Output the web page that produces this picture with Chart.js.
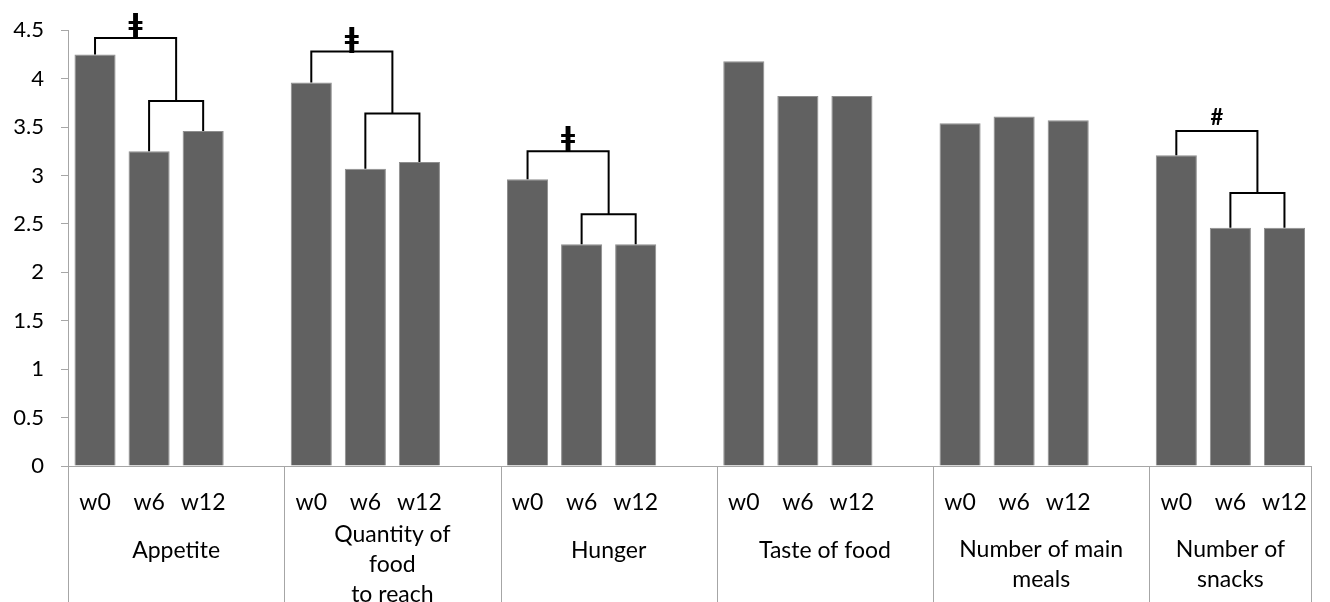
<!DOCTYPE html>
<html>
<head>
<meta charset="utf-8">
<script src="https://cdn.jsdelivr.net/npm/chart.js@4.4.1/dist/chart.umd.min.js"></script>
<style>
  html, body { margin: 0; padding: 0; background: #fff; overflow: hidden; }
  #wrap { width: 1330px; height: 602px; position: relative; }
</style>
</head>
<body>
<div id="wrap"><canvas id="c" width="1330" height="602"></canvas></div>
<script>
// Time points measured within each item
const timepoints = ['w0', 'w6', 'w12'];

// Item names (one entry per text line)
const groupNames = [
  ['Appetite'],
  ['Quantity of', 'food', 'to reach'],
  ['Hunger'],
  ['Taste of food'],
  ['Number of main', 'meals'],
  ['Number of', 'snacks']
];

// Mean scores at w0, w6, w12
const appetite  = [4.25, 3.25, 3.46];
const quantity  = [3.96, 3.07, 3.14];
const hunger    = [2.96, 2.29, 2.29];
const taste     = [4.18, 3.82, 3.82];
const mainMeals = [3.54, 3.61, 3.57];
const snacks    = [3.21, 2.46, 2.46];
const groupScores = [appetite, quantity, hunger, taste, mainMeals, snacks];

// Value axis
const yMin = 0, yMax = 4.5, yStep = 0.5;
const yTickLabels = ['0', '0.5', '1', '1.5', '2', '2.5', '3', '3.5', '4', '4.5'];

// Significance brackets: item index, marker, level of upper and lower bracket
const sigGroups = [0, 1, 2, 5];
const sigMarks  = ['\u01C2', '\u01C2', '\u01C2', '#'];
const sigUpper  = [4.42, 4.28, 3.25, 3.46];
const sigLower  = [3.77, 3.64, 2.60, 2.82];

// One slot per bar, with an empty slot between items
const slotLabels = [];
const slotValues = [];
groupScores.forEach((vals, g) => {
  vals.forEach((v, i) => { slotLabels.push(timepoints[i]); slotValues.push(v); });
  if (g < groupScores.length - 1) { slotLabels.push(''); slotValues.push(null); }
});
const SLOTS_PER_GROUP = timepoints.length + 1;

const FONT = 'Lato, "Open Sans", sans-serif';
const AXIS_GREY = '#a6a6a6';

const groupAxisPlugin = {
  id: 'groupAxis',
  afterDraw(chart) {
    const ctx = chart.ctx;
    const x = chart.scales.x;
    const slotW = x.getPixelForValue(1) - x.getPixelForValue(0);
    const bounds = [];
    groupScores.forEach((vals, g) => {
      const first = g * SLOTS_PER_GROUP;
      const left = x.getPixelForValue(first) - slotW / 2;
      const last = g < groupScores.length - 1 ? first + timepoints.length : first + timepoints.length - 1;
      const right = x.getPixelForValue(last) + slotW / 2;
      bounds.push([left, right]);
    });
    ctx.save();
    // vertical separators between items
    ctx.strokeStyle = AXIS_GREY;
    ctx.lineWidth = 1;
    const edges = bounds.map(b => b[0]).concat([bounds[bounds.length - 1][1]]);
    edges.forEach(px => {
      const xx = Math.round(px) + 0.5;
      ctx.beginPath();
      ctx.moveTo(xx, x.top);
      ctx.lineTo(xx, chart.height);
      ctx.stroke();
    });
    // item names
    ctx.fillStyle = '#000';
    ctx.font = '23px ' + FONT;
    ctx.textAlign = 'center';
    ctx.textBaseline = 'middle';
    const lineH = 30;
    groupNames.forEach((lines, g) => {
      const cx = (bounds[g][0] + bounds[g][1]) / 2;
      const y0 = Math.min(551, 565 - (lines.length - 1) * lineH / 2);
      lines.forEach((t, k) => ctx.fillText(t, cx, y0 + k * lineH));
    });
    ctx.restore();
  },
  afterDatasetsDraw(chart) {
    const ctx = chart.ctx;
    const x = chart.scales.x;
    const y = chart.scales.y;
    ctx.save();
    ctx.strokeStyle = '#000';
    ctx.lineWidth = 2;
    ctx.lineJoin = 'miter';
    sigGroups.forEach((g, k) => {
      const first = g * SLOTS_PER_GROUP;
      const vals = groupScores[g];
      const x0 = x.getPixelForValue(first);
      const x1 = x.getPixelForValue(first + 1);
      const x2 = x.getPixelForValue(first + 2);
      const xm = (x1 + x2) / 2;
      const yUp = y.getPixelForValue(sigUpper[k]);
      const yLo = y.getPixelForValue(sigLower[k]);
      // lower bracket: w6 vs w12
      ctx.beginPath();
      ctx.moveTo(x1, y.getPixelForValue(vals[1]));
      ctx.lineTo(x1, yLo);
      ctx.lineTo(x2, yLo);
      ctx.lineTo(x2, y.getPixelForValue(vals[2]));
      ctx.stroke();
      // upper bracket: w0 vs later weeks
      ctx.beginPath();
      ctx.moveTo(x0, y.getPixelForValue(vals[0]));
      ctx.lineTo(x0, yUp);
      ctx.lineTo(xm, yUp);
      ctx.lineTo(xm, yLo);
      ctx.stroke();
      // marker
      ctx.fillStyle = '#000';
      ctx.textAlign = 'center';
      ctx.textBaseline = 'alphabetic';
      const mx = (x0 + xm) / 2;
      if (sigMarks[k] === '#') {
        ctx.font = 'bold 22px ' + FONT;
        ctx.fillText(sigMarks[k], mx, yUp - 6);
      } else {
        ctx.font = 'bold 26px "DejaVu Sans"';
        ctx.fillText(sigMarks[k], mx, yUp - 5);
      }
    });
    ctx.restore();
  }
};

new Chart(document.getElementById('c'), {
  type: 'bar',
  data: {
    labels: slotLabels,
    datasets: [{
      data: slotValues,
      backgroundColor: '#616161',
      borderColor: '#8e8e8e',
      borderWidth: 1,
      barPercentage: 0.76,
      categoryPercentage: 1
    }]
  },
  options: {
    responsive: false,
    animation: false,
    devicePixelRatio: 1,
    layout: { padding: { top: 28, right: 8, left: 0, bottom: 0 } },
    plugins: { legend: { display: false }, tooltip: { enabled: false } },
    scales: {
      x: {
        grid: { display: false, drawTicks: false },
        border: { display: true, color: AXIS_GREY, width: 1 },
        ticks: { autoSkip: false, maxRotation: 0, minRotation: 0, color: '#000',
                 font: { family: FONT, size: 23 }, padding: 23 },
        afterFit(s) { s.height = 136; }
      },
      y: {
        min: yMin, max: yMax,
        ticks: {
          stepSize: yStep, color: '#000', font: { family: FONT, size: 22 }, padding: 17,
          callback: (v, i) => yTickLabels[i]
        },
        grid: { drawOnChartArea: false, drawTicks: true, tickLength: 7, color: AXIS_GREY },
        border: { display: true, color: AXIS_GREY, width: 1 },
        afterFit(s) { s.width = 68; }
      }
    }
  },
  plugins: [groupAxisPlugin]
});
</script>
</body>
</html>
